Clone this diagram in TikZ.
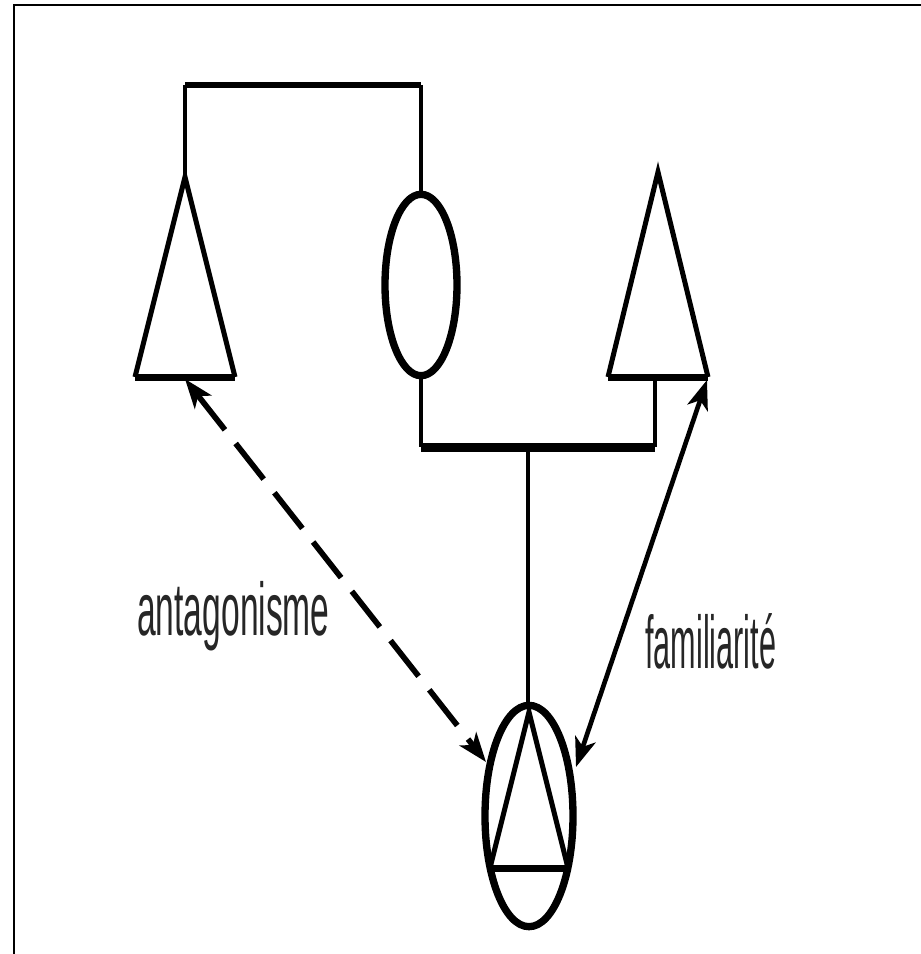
\documentclass[tikz,border=0pt]{standalone}
\usepackage{fontspec}
\setmainfont{Liberation Sans}
\usetikzlibrary{arrows.meta,shapes.geometric}
\newcommand{\narrowtext}[2][0.45]{\scalebox{#1}[1]{#2}}
\tikzset{
  frameline/.style={line width=1.5pt},
  thinline/.style={line width=2.5pt},
  sideline/.style={line width=3.75pt, line join=miter},
  baseline/.style={line width=5.25pt},
  marriage/.style={line width=4.5pt},
  siblings/.style={line width=6.75pt},
  womannode/.style={draw, ellipse, line width=5.5pt, inner sep=0pt},
  relarrow/.style={line width=3.5pt, {Stealth[length=22pt,width=16pt,inset=6pt]}-{Stealth[length=22pt,width=16pt,inset=6pt]}},
  labeltext/.style={anchor=base west, inner sep=0pt, font=\fontsize{56}{62}\selectfont, text=black!85},
}
\begin{document}
\begin{tikzpicture}[x=0.75pt,y=0.75pt,yscale=-1,xscale=1]
            \useasboundingbox (0,0) rectangle (921,954);

            %Frame
            \draw [frameline] (14,954) -- (14,5) -- (921,5) ;

            %Shape: Triangle (father)
            \coordinate (fatherTop) at (185,177);
            \coordinate (fatherL) at (135,377);
            \coordinate (fatherR) at (235,377);
            \draw [sideline] (fatherL) -- (fatherTop) -- (fatherR) ;
            \draw [baseline] (fatherL) -- (fatherR) ;
            %Shape: Ellipse (mother)
            \node [womannode, minimum width=54pt, minimum height=136pt] (mother) at (421,285) {};
            %Shape: Triangle (brother)
            \coordinate (brotherTop) at (658,172);
            \coordinate (brotherL) at (608,377);
            \coordinate (brotherR) at (708,377);
            \coordinate (brotherB) at (655,377);
            \draw [sideline] (brotherL) -- (brotherTop) -- (brotherR) ;
            \draw [baseline] (brotherL) -- (brotherR) ;
            %Shape: Ellipse + Triangle (ego)
            \node [womannode, minimum width=66pt, minimum height=166pt] (ego) at (529,816) {};
            \coordinate (egoTop) at (529,712);
            \coordinate (egoL) at (490,868);
            \coordinate (egoR) at (568,868);
            \draw [sideline] (egoL) -- (egoTop) -- (egoR) ;
            \draw [baseline] (egoL) -- (egoR) ;

            %Straight Lines (marriage)
            \coordinate (marL) at (185,85);
            \coordinate (marR) at (421,85);
            \draw [thinline] (fatherTop) -- (marL) ;
            \draw [marriage] (marL) -- (marR) ;
            \draw [thinline] (marR) -- (mother.north) ;
            %Straight Lines (siblings)
            \coordinate (sibL) at (421,447);
            \coordinate (sibR) at (655,447);
            \coordinate (sibM) at (528,447);
            \draw [thinline] (mother.south) -- (sibL) ;
            \draw [thinline] (brotherB) -- (sibR) ;
            \draw [siblings] (sibL) -- (sibR) ;
            \draw [thinline] (sibM) -- (528,705) coordinate (egoIn) ;

            %Arrows
            \coordinate (antA) at (185,379);
            \coordinate (antB) at (486,762);
            \draw [relarrow, line width=4.25pt, dash pattern=on 34pt off 13pt] (antA) -- (antB) ;
            \coordinate (famA) at (707,380);
            \coordinate (famB) at (576,767);
            \draw [relarrow] (famA) -- (famB) ;

            % Text Node
            \node [labeltext] (antLabel) at (137,635) {\narrowtext{antagonisme}};
            % Text Node
            \node [labeltext] (famLabel) at (645,668) {\narrowtext[0.41]{familiarité}};
\end{tikzpicture}
\end{document}
